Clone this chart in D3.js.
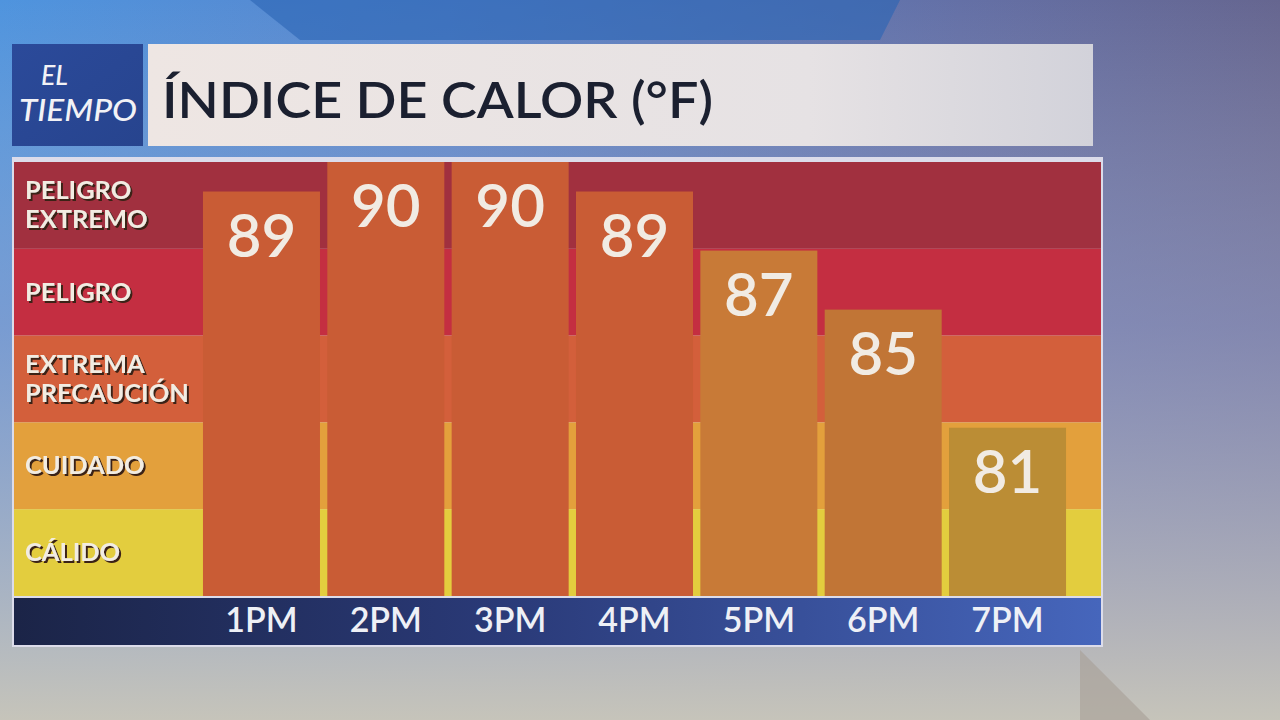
<!DOCTYPE html>
<html lang="es">
<head>
<meta charset="UTF-8">
<title>Índice de calor</title>
<script src="https://d3js.org/d3.v7.min.js"></script>
<style>
  html, body { margin: 0; padding: 0; overflow: hidden; }
  body { width: 1280px; height: 720px; }
  text { font-family: Lato, "Open Sans", sans-serif; }
</style>
</head>
<body>
<div id="chart"></div>
<script>
  // hours and heat index (°F)
  const hours = ['1PM', '2PM', '3PM', '4PM', '5PM', '6PM', '7PM'];
  const heatIndex = [89, 90, 90, 89, 87, 85, 81];

  // risk bands, top to bottom
  const bandNames = ['PELIGRO EXTREMO', 'PELIGRO', 'EXTREMA PRECAUCIÓN', 'CUIDADO', 'CÁLIDO'];
  const bandLines = [['PELIGRO', 'EXTREMO'], ['PELIGRO'], ['EXTREMA', 'PRECAUCIÓN'], ['CUIDADO'], ['CÁLIDO']];

  const title = 'ÍNDICE DE CALOR (°F)';

  const W = 1280, H = 720;
  const plot = { left: 14, right: 1101, top: 162, bottom: 596 };

  const svg = d3.select('#chart').append('svg')
    .attr('width', W).attr('height', H);

  const defs = svg.append('defs');

  // background gradients
  const bg = defs.append('linearGradient').attr('id', 'bg')
    .attr('x1', 0).attr('y1', 0).attr('x2', 1).attr('y2', 0);
  bg.append('stop').attr('offset', '0%').attr('stop-color', '#4f94de');
  bg.append('stop').attr('offset', '35%').attr('stop-color', '#5a86cc');
  bg.append('stop').attr('offset', '75%').attr('stop-color', '#6470a6');
  bg.append('stop').attr('offset', '100%').attr('stop-color', '#666690');

  const fog = defs.append('linearGradient').attr('id', 'fog')
    .attr('x1', 0).attr('y1', 0).attr('x2', 0).attr('y2', 1);
  fog.append('stop').attr('offset', '0%').attr('stop-color', '#b4b8cc').attr('stop-opacity', 0);
  fog.append('stop').attr('offset', '45%').attr('stop-color', '#9aa2c8').attr('stop-opacity', 0.55);
  fog.append('stop').attr('offset', '100%').attr('stop-color', '#c6c4ba').attr('stop-opacity', 1);

  const axisGrad = defs.append('linearGradient').attr('id', 'axisGrad')
    .attr('x1', 0).attr('y1', 0).attr('x2', 1).attr('y2', 0);
  axisGrad.append('stop').attr('offset', '0%').attr('stop-color', '#1b2447');
  axisGrad.append('stop').attr('offset', '45%').attr('stop-color', '#2a3a78');
  axisGrad.append('stop').attr('offset', '100%').attr('stop-color', '#4666bc');

  const titleGrad = defs.append('linearGradient').attr('id', 'titleGrad')
    .attr('x1', 0).attr('y1', 0).attr('x2', 1).attr('y2', 0);
  titleGrad.append('stop').attr('offset', '0%').attr('stop-color', '#eee6e3');
  titleGrad.append('stop').attr('offset', '70%').attr('stop-color', '#e6e2e4');
  titleGrad.append('stop').attr('offset', '100%').attr('stop-color', '#d2d2da');

  const logoGrad = defs.append('linearGradient').attr('id', 'logoGrad')
    .attr('x1', 0).attr('y1', 0).attr('x2', 1).attr('y2', 1);
  logoGrad.append('stop').attr('offset', '0%').attr('stop-color', '#2b4a9a');
  logoGrad.append('stop').attr('offset', '100%').attr('stop-color', '#27448e');

  // dark drop shadow for the band labels
  defs.append('filter').attr('id', 'shadow')
    .attr('x', '-10%').attr('y', '-20%').attr('width', '130%').attr('height', '150%')
    .append('feDropShadow')
    .attr('dx', 2).attr('dy', 2).attr('stdDeviation', 0.6)
    .attr('flood-color', '#3a2418').attr('flood-opacity', 1);

  svg.append('rect').attr('width', W).attr('height', H).attr('fill', 'url(#bg)');
  svg.append('rect').attr('width', W).attr('height', H).attr('fill', 'url(#fog)');
  // darker diagonal streak at the top
  svg.append('path').attr('d', 'M250,0 L900,0 L880,40 L300,40 Z').attr('fill', '#2a64b4').attr('opacity', 0.6);
  svg.append('path').attr('d', 'M1080,650 L1150,720 L1080,720 Z').attr('fill', '#a69f96').attr('opacity', 0.6);

  // header
  svg.append('rect').attr('x', 12).attr('y', 44).attr('width', 131).attr('height', 102).attr('fill', 'url(#logoGrad)');
  svg.append('text').attr('x', 41).attr('y', 85)
    .attr('fill', '#f2f2f6').style('font-style', 'italic').style('font-weight', 500).style('font-size', '26px')
    .attr('textLength', 27).attr('lengthAdjust', 'spacingAndGlyphs').text('EL');
  svg.append('text').attr('x', 19).attr('y', 121)
    .attr('fill', '#f2f2f6').style('font-style', 'italic').style('font-weight', 500).style('font-size', '30px')
    .attr('textLength', 118).attr('lengthAdjust', 'spacingAndGlyphs').text('TIEMPO');

  svg.append('rect').attr('x', 148).attr('y', 44).attr('width', 945).attr('height', 102).attr('fill', 'url(#titleGrad)');
  svg.append('text').attr('x', 162).attr('y', 118)
    .attr('fill', '#1b2030').style('font-size', '50px').style('font-weight', 600)
    .attr('textLength', 551).attr('lengthAdjust', 'spacingAndGlyphs').text(title);

  // panel frame
  svg.append('rect').attr('x', 12).attr('y', 157).attr('width', 1091).attr('height', 490)
    .attr('fill', '#dcdcea');

  // scales
  const yBand = d3.scaleBand().domain(bandNames).range([plot.top, plot.bottom]);
  const bandColor = d3.scaleOrdinal().domain(bandNames)
    .range(['#a1303f', '#c42e41', '#d35f3b', '#e3a03c', '#e3cd3e']);

  const x = d3.scaleBand().domain(hours).range([199.3, 1069.7])
    .paddingInner(0.059).paddingOuter(0.0295);
  const y = d3.scaleLinear().domain([75.3, 90]).range([plot.bottom, plot.top]);
  const barColor = d3.scaleLinear().domain([81, 85, 87, 89, 90])
    .range(['#bb8d35', '#c17536', '#c87a37', '#c95c35', '#c95c35']);

  // bands
  svg.append('g').selectAll('rect').data(bandNames).join('rect')
    .attr('x', plot.left).attr('y', d => yBand(d))
    .attr('width', plot.right - plot.left).attr('height', yBand.bandwidth())
    .attr('fill', d => bandColor(d));

  // band labels, one text per line, stretched a little wider like the broadcast font
  const labels = svg.append('g');
  bandNames.forEach((name, i) => {
    const lines = bandLines[i];
    const cy = yBand(name) + yBand.bandwidth() / 2;
    lines.forEach((ln, j) => {
      const t = labels.append('text')
        .attr('x', 25)
        .attr('y', cy + (j - (lines.length - 1) / 2) * 29 + 8.5)
        .attr('fill', '#f2ece2')
        .attr('filter', 'url(#shadow)')
        .style('font-size', '24px').style('font-weight', 700)
        .text(ln);
      const len = t.node().getComputedTextLength();
      t.attr('textLength', len * 1.06).attr('lengthAdjust', 'spacingAndGlyphs');
    });
  });

  // bars
  svg.append('g').selectAll('rect').data(heatIndex).join('rect')
    .attr('x', (d, i) => x(hours[i]))
    .attr('y', d => y(d))
    .attr('width', x.bandwidth())
    .attr('height', d => plot.bottom - y(d))
    .attr('fill', d => barColor(d));

  svg.append('g').selectAll('text').data(heatIndex).join('text')
    .attr('x', (d, i) => x(hours[i]) + x.bandwidth() / 2)
    .attr('y', d => y(d) + 65)
    .attr('text-anchor', 'middle')
    .attr('fill', '#f1ebe3')
    .style('font-size', '60px').style('font-weight', 600)
    .text(d => d);

  // axis strip
  svg.append('rect').attr('x', plot.left).attr('y', 598).attr('width', plot.right - plot.left).attr('height', 47)
    .attr('fill', 'url(#axisGrad)');

  const xAxis = svg.append('g').attr('transform', 'translate(0,605)')
    .call(d3.axisBottom(x).tickSize(0).tickPadding(0));
  xAxis.select('.domain').remove();
  xAxis.selectAll('text')
    .attr('dy', '0.8em')
    .attr('fill', '#eef0f6')
    .style('font-family', 'Lato, sans-serif')
    .style('font-size', '34px').style('font-weight', 600);
</script>
</body>
</html>
